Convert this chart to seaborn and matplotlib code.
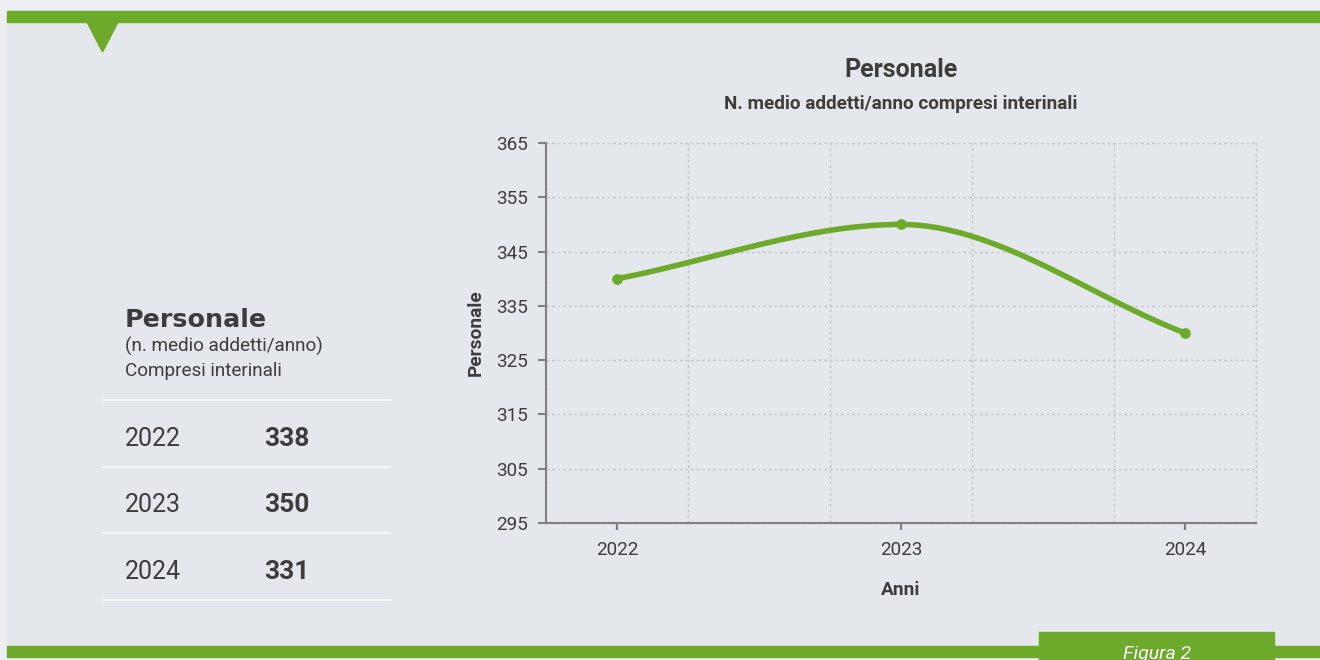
import numpy as np
import pandas as pd
import matplotlib
matplotlib.use("Agg")
import matplotlib.pyplot as plt
from matplotlib.patches import Rectangle, Polygon
from matplotlib.ticker import FixedLocator
import seaborn as sns

# ---------------- data ----------------
years = [2022, 2023, 2024]
chart_values = [340, 350, 330]          # values plotted in the line chart
table_years = ["2022", "2023", "2024"]
table_values = ["338", "350", "331"]     # values shown in the side table
y_ticks = [295, 305, 315, 325, 335, 345, 355, 365]

title = "Personale"
subtitle = "N. medio addetti/anno compresi interinali"
x_label = "Anni"
y_label = "Personale"
side_title = "Personale"
side_sub1 = "(n. medio addetti/anno)"
side_sub2 = "Compresi interinali"
figure_tag = "Figura 2"

GREEN = "#6DAA2C"
PANEL = "#E4E7EB"
OUTER = "#ECEEF1"
TEXT = "#3D3D3D"
AXIS_GREY = "#808080"
GRID = "#C4C6CA"

sns.set_theme(style="white")
plt.rcParams["font.family"] = ["Roboto", "DejaVu Sans"]

W, H = 1320, 660
fig = plt.figure(figsize=(W / 100, H / 100), dpi=100, facecolor=OUTER)


def fx(px):
    return px / W


def fy(py):
    return 1 - py / H


# ---------------- decorations ----------------
fig.patches.append(Rectangle((fx(7), fy(657)), 1 - fx(7), (657 - 11) / H,
                             transform=fig.transFigure, color=PANEL, zorder=-2))
fig.patches.append(Rectangle((fx(7), fy(22)), 1 - fx(7), 11 / H,
                             transform=fig.transFigure, color=GREEN, zorder=1))
fig.patches.append(Polygon([(fx(87), fy(22)), (fx(118), fy(22)), (fx(102.5), fy(52))],
                           closed=True, transform=fig.transFigure, color=GREEN, zorder=1))
fig.patches.append(Rectangle((fx(7), fy(657)), 1 - fx(7), 11 / H,
                             transform=fig.transFigure, color=GREEN, zorder=1))
fig.patches.append(Rectangle((fx(1039), 0), fx(1274) - fx(1039), 28 / H,
                             transform=fig.transFigure, color=GREEN, zorder=2))
fig.text(fx(1157), fy(659), figure_tag, color="white", fontsize=14, style="italic",
         ha="center", va="baseline", zorder=3)

# ---------------- side table ----------------
fig.text(fx(125), fy(327), side_title, family=["DejaVu Sans"], fontweight="bold",
         fontsize=18.3, color=TEXT, ha="left", va="baseline")
fig.text(fx(125), fy(352), side_sub1, fontsize=13.6, color=TEXT, ha="left", va="baseline")
fig.text(fx(125), fy(376), side_sub2, fontsize=13.6, color=TEXT, ha="left", va="baseline")

for ly in [400, 466.7, 533.3, 600]:
    fig.add_artist(plt.Line2D([fx(102), fx(391)], [fy(ly), fy(ly)],
                              transform=fig.transFigure, color="#F6F7F9", lw=1.3))

for yr, val, base in zip(table_years, table_values, [446, 511.5, 579]):
    fig.text(fx(125), fy(base), yr, fontsize=18, fontweight="normal", color=TEXT,
             ha="left", va="baseline")
    fig.text(fx(264), fy(base), val, fontsize=19, fontweight="bold", color=TEXT,
             ha="left", va="baseline")

# ---------------- chart ----------------
ax = fig.add_axes([fx(546), fy(523), fx(1256) - fx(546), (523 - 143) / H])
ax.set_zorder(5)
ax.set_facecolor(PANEL)

# monotone cubic (Fritsch-Carlson) rendering of the line through the data points
xs = np.array(years, dtype=float)
ys = np.array(chart_values, dtype=float)
d = np.diff(ys) / np.diff(xs)
m = np.zeros_like(ys)
m[0], m[-1] = d[0], d[-1]
for i in range(1, len(ys) - 1):
    m[i] = 0.0 if d[i - 1] * d[i] <= 0 else (d[i - 1] + d[i]) / 2
curve_x, curve_y = [], []
for i in range(len(xs) - 1):
    h = xs[i + 1] - xs[i]
    t = np.linspace(0, 1, 60)
    h00 = 2 * t**3 - 3 * t**2 + 1
    h10 = t**3 - 2 * t**2 + t
    h01 = -2 * t**3 + 3 * t**2
    h11 = t**3 - t**2
    curve_x.extend(xs[i] + t * h)
    curve_y.extend(h00 * ys[i] + h10 * h * m[i] + h01 * ys[i + 1] + h11 * h * m[i + 1])
curve = pd.DataFrame({"Anni": curve_x, "Personale": curve_y})
pts = pd.DataFrame({"Anni": years, "Personale": chart_values})

sns.lineplot(data=curve, x="Anni", y="Personale", ax=ax, color=GREEN, lw=4.0,
             sort=False, zorder=3)
sns.scatterplot(data=pts, x="Anni", y="Personale", ax=ax, color=GREEN, s=60,
                edgecolor=GREEN, linewidth=0, zorder=4)

ax.set_xlim(years[0] - 0.25, years[-1] + 0.25)
ax.set_ylim(y_ticks[0], y_ticks[-1])
ax.set_xticks(years)
ax.set_xticklabels([str(y) for y in years])
ax.xaxis.set_minor_locator(FixedLocator([years[0] - 0.25 + 0.5 * k for k in range(6)]))
ax.set_yticks(y_ticks)

ax.grid(False)
ax.grid(which="minor", axis="x", color=GRID, lw=1.0, linestyle=(0, (2, 2)))
ax.grid(which="major", axis="y", color=GRID, lw=1.0, linestyle=(0, (2, 2)))

for s in ["top", "right"]:
    ax.spines[s].set_visible(False)
for s in ["left", "bottom"]:
    ax.spines[s].set_color(AXIS_GREY)
    ax.spines[s].set_linewidth(1.5)
    ax.spines[s].set_zorder(2.5)

ax.tick_params(axis="y", which="major", length=6, width=1.5, color=AXIS_GREY,
               labelsize=13.6, labelcolor=TEXT, pad=7, left=True)
ax.tick_params(axis="x", which="major", length=5, width=1.5, color=AXIS_GREY,
               labelsize=13.6, labelcolor=TEXT, pad=8, bottom=True)
ax.tick_params(axis="x", which="minor", length=0)

for tk in ax.xaxis.get_minor_ticks() + ax.yaxis.get_major_ticks():
    tk.gridline.set_clip_on(False)

ax.set_xlabel(x_label, fontsize=13.8, fontweight="bold", color=TEXT, labelpad=16)
ax.set_ylabel(y_label, fontsize=13.8, fontweight="bold", color=TEXT, labelpad=8)

fig.text(fx(901), fy(77.3), title, fontsize=18, fontweight="bold", color=TEXT,
         ha="center", va="baseline")
fig.text(fx(901), fy(109), subtitle, fontsize=13.6, fontweight="bold", color=TEXT,
         ha="center", va="baseline")

fig.savefig("out.png", dpi=100, facecolor=OUTER)
